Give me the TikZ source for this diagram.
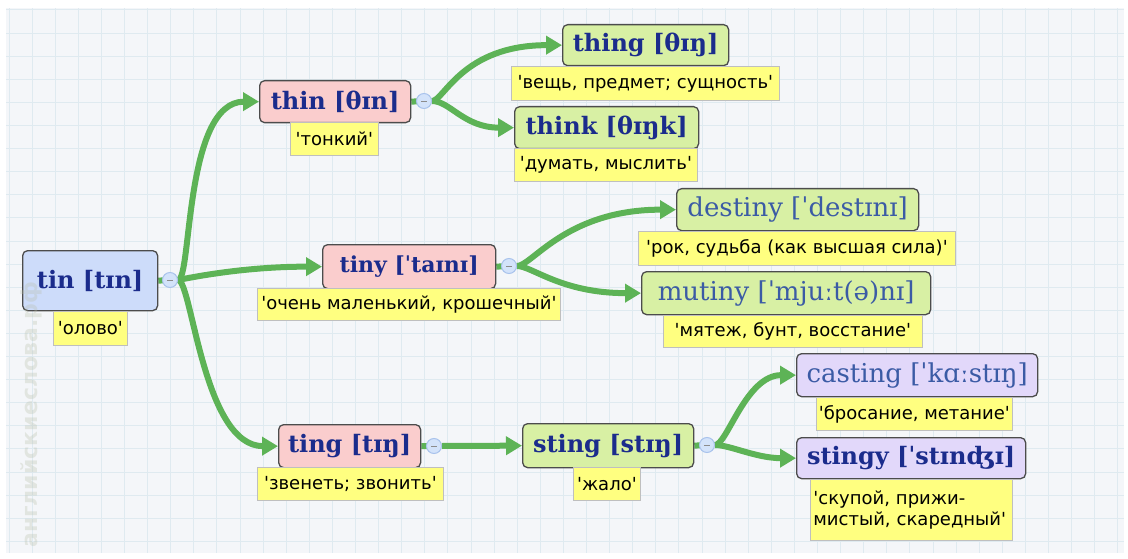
\documentclass[tikz,border=0pt]{standalone}
\usepackage{fontspec}
\usetikzlibrary{arrows.meta}
\newfontfamily\wf{DejaVu Serif}
\newfontfamily\gf{DejaVu Sans}
\definecolor{bgc}{HTML}{F4F6F9}
\definecolor{gridc}{HTML}{DFEAF0}
\definecolor{edgec}{HTML}{5DB356}
\definecolor{pinkc}{HTML}{FACDCD}
\definecolor{greenc}{HTML}{D8F0A4}
\definecolor{bluec}{HTML}{CDDCFA}
\definecolor{lilac}{HTML}{E2D8FA}
\definecolor{yelc}{HTML}{FFFF80}
\definecolor{navy}{HTML}{1B2C8C}
\definecolor{lnavy}{HTML}{3B5BA5}
\definecolor{cfill}{HTML}{D3E3FA}
\definecolor{cline}{HTML}{A9C3EC}
\definecolor{wmc}{HTML}{B8BEA8}
\pgfdeclarelayer{back}
\pgfdeclarelayer{edges}
\pgfsetlayers{back,edges,main}
\begin{document}
\begin{tikzpicture}[x=1pt,y=-1pt,
 word/.style={draw=black!70, line width=1.3pt, rounded corners=5pt, inner sep=0pt, anchor=north west, text=navy, font=\wf\bfseries\fontsize{24}{26}\selectfont},
 wordl/.style={word, text=lnavy, font=\wf\fontsize{26}{28}\selectfont},
 gloss/.style={fill=yelc, draw=black!25, line width=0.8pt, inner sep=0pt, anchor=north west, font=\gf\fontsize{18}{21}\selectfont},
 coll/.style={circle, fill=cfill, draw=cline, line width=1pt, minimum size=15pt, inner sep=0pt,
   path picture={\draw[black!45, line width=0.8pt] ([xshift=-3pt]path picture bounding box.center) -- ([xshift=3pt]path picture bounding box.center);}},
 edge/.style={draw=edgec, line width=6pt},
 arr/.style={edge, -{Triangle[length=16pt,width=18pt]}}]
\useasboundingbox (0,0) rectangle (1128,559);
\begin{pgfonlayer}{back}
\fill[bgc] (6,8) rectangle (1124,553);
\foreach \i in {0,...,48} \draw[gridc, line width=1pt] ({9+23.1*\i},8) -- ({9+23.1*\i},553);
\foreach \j in {0,...,23} \draw[gridc, line width=1pt] (6,{10+23.1*\j}) -- (1124,{10+23.1*\j});
\end{pgfonlayer}

% word boxes
\node[word, fill=bluec, minimum width=135pt, minimum height=60pt] (tin) at (22,250) {tin [tɪn]};
\node[gloss, minimum width=74pt, minimum height=34pt] (gtin) at (53,311) {'олово'};

\node[word, fill=pinkc, minimum width=151pt, minimum height=42pt] (thin) at (259,80) {thin [θɪn]};
\node[gloss, minimum width=88pt, minimum height=33pt] (gthin) at (290,122) {'тонкий'};

\node[word, fill=greenc, minimum width=166pt, minimum height=41pt] (thing) at (562,24) {thing [θɪŋ]};
\node[gloss, minimum width=268pt, minimum height=34pt] (gthing) at (511,66) {'вещь, предмет; сущность'};

\node[word, fill=greenc, minimum width=184pt, minimum height=42pt] (think) at (514,106) {think [θɪŋk]};
\node[gloss, minimum width=183pt, minimum height=33pt] (gthink) at (514,148) {'думать, мыслить'};

\node[word, fill=pinkc, minimum width=173pt, minimum height=44pt, font=\wf\bfseries\fontsize{22}{24}\selectfont] (tiny) at (322,244) {tiny [ˈtaɪnɪ]};
\node[gloss, minimum width=303pt, minimum height=32pt] (gtiny) at (257,288) {'очень маленький, крошечный'};

\node[wordl, fill=greenc, minimum width=242pt, minimum height=42pt] (destiny) at (676,188) {destiny [ˈdestɪnɪ]};
\node[gloss, minimum width=317pt, minimum height=34pt] (gdestiny) at (638,231) {'рок, судьба (как высшая сила)'};

\node[wordl, fill=greenc, minimum width=289pt, minimum height=43pt] (mutiny) at (641,271) {mutiny [ˈmjuːt(ə)nɪ]};
\node[gloss, minimum width=259pt, minimum height=32pt] (gmutiny) at (663,315) {'мятеж, бунт, восстание'};

\node[word, fill=pinkc, minimum width=142pt, minimum height=43pt] (ting) at (278,424) {ting [tɪŋ]};
\node[gloss, minimum width=186pt, minimum height=33pt] (gting) at (257,467) {'звенеть; звонить'};

\node[word, fill=greenc, minimum width=171pt, minimum height=44pt] (sting) at (522,423) {sting [stɪŋ]};
\node[gloss, minimum width=67pt, minimum height=33pt] (gsting) at (573,467) {'жало'};

\node[wordl, fill=lilac, minimum width=241pt, minimum height=43pt] (casting) at (796,353) {casting [ˈkɑːstɪŋ]};
\node[gloss, minimum width=196pt, minimum height=33pt] (gcasting) at (816,397) {'бросание, метание'};

\node[word, fill=lilac, minimum width=229pt, minimum height=41pt] (stingy) at (796,437) {stingy [ˈstɪnʤɪ]};
\node[gloss, minimum width=202pt, minimum height=61pt, align=left, text width=196pt] (gstingy) at (810,479) {'скупой, прижи-\\мистый, скаредный'};

% collapse circles
\node[coll] (ctin) at (170,280) {};
\node[coll] (cthin) at (424,101) {};
\node[coll] (ctiny) at (509,266) {};
\node[coll] (cting) at (434,446) {};
\node[coll] (csting) at (707,445) {};

\begin{pgfonlayer}{edges}
\draw[edge] (tin.east) -- (ctin.center);
\draw[edge] (thin.east) -- (cthin.center);
\draw[edge] (tiny.east) -- (ctiny.center);
\draw[edge] (ting.east) -- (cting.center);
\draw[edge] (sting.east) -- (csting.center);
\draw[arr] (ctin.east) .. controls +(14,0) and +(-75,0) .. (thin.west);
\draw[arr] (ctin.east) .. controls +(40,-8) and +(-60,0) .. (tiny.west);
\draw[arr] (ctin.east) .. controls +(14,0) and +(-75,0) .. (ting.west);
\draw[arr] (cthin.east) .. controls +(12,0) and +(-100,0) .. (thing.west);
\draw[arr] (cthin.east) .. controls +(18,0) and +(-50,0) .. (think.west);
\draw[arr] (ctiny.east) .. controls +(15,0) and +(-110,0) .. (destiny.west);
\draw[arr] (ctiny.east) .. controls +(15,0) and +(-80,0) .. (mutiny.west);
\draw[arr] (cting.east) -- (sting.west);
\draw[arr] (csting.east) .. controls +(12,0) and +(-50,0) .. (casting.west);
\draw[arr] (csting.east) .. controls +(15,0) and +(-40,0) .. (stingy.west);
\end{pgfonlayer}

% watermark
\node[rotate=90, anchor=west, inner sep=0pt, text=wmc, opacity=0.3, font=\gf\bfseries\fontsize{22}{24}\selectfont] (wm) at (31,548) {английскиеслова.рф};
\end{tikzpicture}
\end{document}
